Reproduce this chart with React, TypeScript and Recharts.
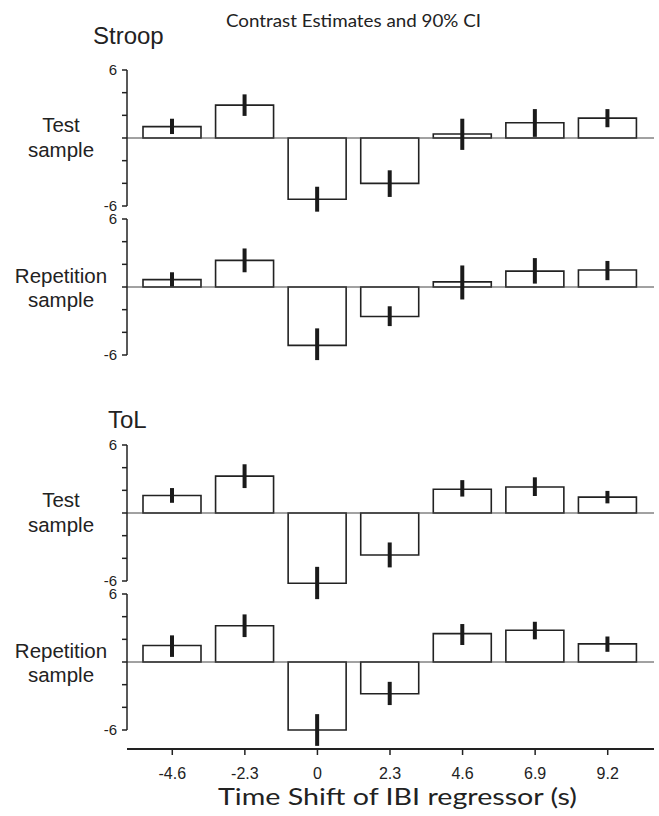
import { Bar, BarChart, ErrorBar, ReferenceLine, XAxis, YAxis } from 'recharts'

const shifts = ['-4.6', '-2.3', '0', '2.3', '4.6', '6.9', '9.2']
const yTicks = [-6, -4, -2, 0, 2, 4, 6]

// Stroop, test sample
const stroopTestEst = [1.0, 2.9, -5.4, -4.0, 0.35, 1.35, 1.75]
const stroopTestLow = [0.35, 1.95, -6.5, -5.2, -1.05, 0.1, 0.95]
const stroopTestHigh = [1.7, 3.85, -4.3, -2.85, 1.7, 2.55, 2.55]

// Stroop, repetition sample
const stroopRepEst = [0.65, 2.35, -5.15, -2.6, 0.45, 1.4, 1.5]
const stroopRepLow = [0.05, 1.3, -6.45, -3.45, -1.1, 0.3, 0.6]
const stroopRepHigh = [1.3, 3.4, -3.65, -1.7, 1.9, 2.55, 2.3]

// ToL, test sample
const tolTestEst = [1.55, 3.25, -6.2, -3.7, 2.1, 2.3, 1.4]
const tolTestLow = [0.9, 2.2, -7.6, -4.8, 1.45, 1.5, 0.85]
const tolTestHigh = [2.2, 4.3, -4.75, -2.6, 2.9, 3.15, 1.95]

// ToL, repetition sample
const tolRepEst = [1.45, 3.2, -6.0, -2.8, 2.5, 2.8, 1.6]
const tolRepLow = [0.45, 2.2, -7.4, -3.8, 1.5, 2.0, 0.9]
const tolRepHigh = [2.35, 4.2, -4.6, -1.75, 3.35, 3.55, 2.25]

const W = 659
const PLOT_H = 136
const M = 24
const PAD = { left: 9, right: 10 }
const ARIAL = '"Liberation Sans", Arial, sans-serif'
const CALIBRI = 'Lato, "Open Sans", sans-serif'
const INK = '#222'

interface PanelProps {
  top: number
  est: number[]
  low: number[]
  high: number[]
}

function Panel({ top, est, low, high }: PanelProps) {
  const data = shifts.map((shift, i) => ({
    shift,
    est: est[i],
    err: [est[i] - low[i], high[i] - est[i]],
  }))

  return (
    <div style={{ position: 'absolute', left: 0, top: top - M }}>
      <BarChart width={W} height={PLOT_H + 2 * M} data={data} margin={{ top: M, right: 5, bottom: M, left: 0 }}>
        <XAxis dataKey="shift" hide padding={PAD} />
        <YAxis
          domain={[-6, 6]}
          allowDataOverflow
          ticks={yTicks}
          interval={0}
          width={127}
          tickSize={5}
          tickMargin={5}
          fontSize={15}
          tickFormatter={(v: number) => (Math.abs(v) === 6 ? String(v) : '')}
          axisLine={{ stroke: INK, strokeWidth: 1.5 }}
          tickLine={{ stroke: INK, strokeWidth: 1.5 }}
          tick={{ fontSize: 15, fill: INK, fontFamily: ARIAL }}
        />
        <ReferenceLine y={0} stroke="#444" strokeWidth={1} />
        <Bar dataKey="est" fill="#fff" stroke={INK} strokeWidth={1.6} barSize={58} isAnimationActive={false}>
          <ErrorBar dataKey="err" width={0} stroke="#1a1a1a" strokeWidth={4} isAnimationActive={false} />
        </Bar>
      </BarChart>
    </div>
  )
}

function XAxisStrip() {
  const data = shifts.map((shift) => ({ shift, v: 0 }))
  return (
    <div style={{ position: 'absolute', left: 0, top: 709 }}>
      <BarChart width={W} height={100} data={data} margin={{ top: 39, right: 5, bottom: 19, left: 127 }}>
        <XAxis
          dataKey="shift"
          padding={PAD}
          height={41}
          interval={0}
          tickSize={6}
          tickMargin={13}
          fontSize={16}
          axisLine={{ stroke: INK, strokeWidth: 2 }}
          tickLine={{ stroke: INK, strokeWidth: 1.5 }}
          tick={{ fontSize: 16, fill: INK, fontFamily: ARIAL }}
        />
        <YAxis hide domain={[0, 1]} />
        <Bar dataKey="v" fill="transparent" isAnimationActive={false} />
      </BarChart>
    </div>
  )
}

export default function App() {
  return (
    <div style={{ position: 'absolute', left: 0, top: 0, width: W, height: 816, background: '#fff' }}>
      <style>{`.recharts-surface{overflow:visible} .recharts-wrapper g[clip-path]{clip-path:none !important}`}</style>
      <Panel top={70} est={stroopTestEst} low={stroopTestLow} high={stroopTestHigh} />
      <Panel top={219} est={stroopRepEst} low={stroopRepLow} high={stroopRepHigh} />
      <Panel top={445} est={tolTestEst} low={tolTestLow} high={tolTestHigh} />
      <Panel top={594} est={tolRepEst} low={tolRepLow} high={tolRepHigh} />
      <XAxisStrip />
      <svg width={W} height={816} style={{ position: 'absolute', left: 0, top: 0, pointerEvents: 'none' }}>
        <g fill={INK} fontFamily={ARIAL}>
          <text x={226} y={27} fontFamily={CALIBRI} fontSize={18} textLength={255} lengthAdjust="spacingAndGlyphs">
            Contrast Estimates and 90% CI
          </text>
          <text x={93} y={44} fontSize={24}>Stroop</text>
          <text x={108} y={428} fontSize={24}>ToL</text>
          <g fontSize={20.5} textAnchor="middle">
            <text x={61} y={132}>Test</text>
            <text x={61} y={157}>sample</text>
            <text x={61} y={283}>Repetition</text>
            <text x={61} y={307}>sample</text>
            <text x={61} y={507}>Test</text>
            <text x={61} y={532}>sample</text>
            <text x={61} y={658}>Repetition</text>
            <text x={61} y={682}>sample</text>
          </g>
          <text x={218} y={805} fontFamily={CALIBRI} fontSize={24} textLength={359} lengthAdjust="spacingAndGlyphs">
            Time Shift of IBI regressor (s)
          </text>
        </g>
      </svg>
    </div>
  )
}
